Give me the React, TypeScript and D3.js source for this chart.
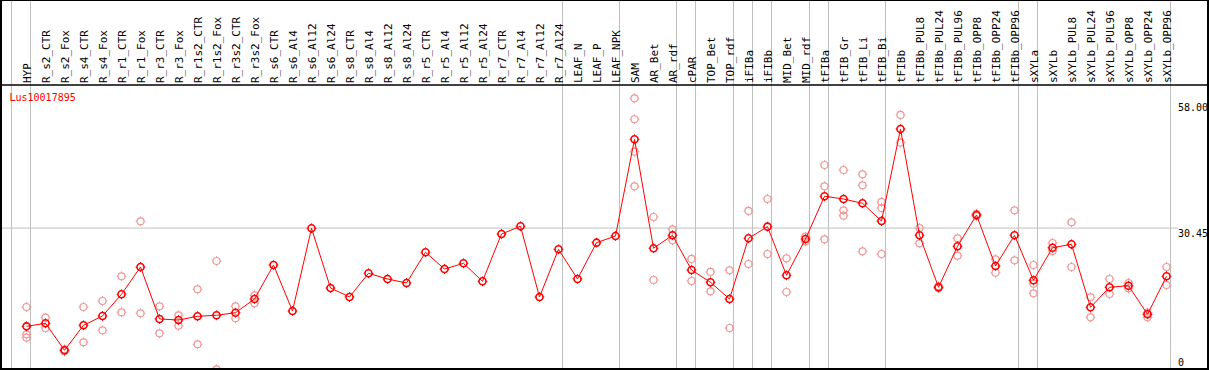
import React from "react";
import * as d3 from "d3";

const categories = [
  "HYP", "R_s2_CTR", "R_s2_Fox", "R_s4_CTR", "R_s4_Fox", "R_r1_CTR", "R_r1_Fox", "R_r3_CTR", "R_r3_Fox",
  "R_r1s2_CTR", "R_r1s2_Fox", "R_r3s2_CTR", "R_r3s2_Fox", "R_s6_CTR", "R_s6_Al4", "R_s6_Al12", "R_s6_Al24",
  "R_s8_CTR", "R_s8_Al4", "R_s8_Al12", "R_s8_Al24", "R_r5_CTR", "R_r5_Al4", "R_r5_Al12", "R_r5_Al24",
  "R_r7_CTR", "R_r7_Al4", "R_r7_Al12", "R_r7_Al24", "LEAF_N", "LEAF_P", "LEAF_NPK", "SAM", "AR_Bet", "AR_rdf",
  "cPAR", "TOP_Bet", "TOP_rdf", "iFIBa", "iFIBb", "MID_Bet", "MID_rdf", "tFIBa", "tFIB_Gr", "tFIB_Li", "tFIB_Bi",
  "tFIBb", "tFIBb_PUL8", "tFIBb_PUL24", "tFIBb_PUL96", "tFIBb_OPP8", "tFIBb_OPP24", "tFIBb_OPP96",
  "sXYLa", "sXYLb", "sXYLb_PUL8", "sXYLb_PUL24", "sXYLb_PUL96", "sXYLb_OPP8", "sXYLb_OPP24", "sXYLb_OPP96",
];

const means = [
  9.59, 10.23, 4.5, 9.81, 11.78, 16.39, 22.19, 11.15, 10.93, 11.72, 11.93, 12.48, 15.39, 22.61, 12.85,
  30.4, 17.73, 15.82, 20.85, 19.64, 18.79, 25.31, 21.76, 22.97, 19.15, 29.19, 30.83, 15.82, 25.94, 19.64,
  27.35, 28.77, 49.3, 26.16, 28.92, 21.55, 18.94, 15.39, 28.28, 30.75, 20.42, 28.13, 37.2, 36.62, 35.71,
  31.95, 51.49, 28.92, 17.88, 26.58, 33.23, 22.4, 28.92, 19.36, 26.28, 27.0, 13.63, 17.88, 18.22, 12.14, 20.21,
];

const replicates: number[][] = [
  [13.69, 7.9, 7.18], [11.42, 9.24], [4.7, 4.3], [13.69, 6.2], [14.97, 8.75], [20.21, 12.57], [31.89, 12.36],
  [13.84, 8.11], [11.93, 9.72], [17.45, 5.77], [23.46, 0.47], [13.84, 11.3], [16.18, 14.48],
  [], [], [], [], [], [], [], [], [], [], [], [], [], [], [], [], [], [], [],
  [58.0, 53.55, 46.67, 39.32], [32.8, 19.43], [30.19, 27.86], [23.89, 19.21], [21.13, 17.02], [21.48, 9.24],
  [34.08, 22.82], [36.62, 24.95], [24.03, 16.88], [28.62, 27.64], [43.84, 39.32, 28.07], [42.78, 34.22, 33.08],
  [41.87, 39.53, 25.52], [35.99, 34.71, 24.95], [54.46, 48.58], [30.47, 27.22], [18.1, 17.7], [28.28, 24.59],
  [33.45, 33.0], [23.82, 20.98], [34.22, 23.61], [22.61, 18.64, 16.6], [27.28, 25.58], [31.68, 22.19],
  [15.75, 11.51], [19.64, 16.45], [18.79, 17.66], [12.48, 11.51], [22.19, 18.36],
];

const yTicks = [58.0, 30.45, 0];
const separatorsAfter = [-1, 0, 28, 31, 34, 35, 37, 38, 39, 41, 42, 45, 52, 53, 60];
const geneLabel = "Lus10017895";

const W = 1209;
const H = 370;
const MONO = "'DejaVu Sans Mono', 'Liberation Mono', monospace";

function Marker({ cx, cy, color, sw }: { cx: number; cy: number; color: string; sw: number }) {
  const r = 3.5;
  const t = 1.4;
  return (
    <g stroke={color} strokeWidth={sw} fill="none">
      <circle cx={cx} cy={cy} r={r} />
      <line x1={cx} y1={cy - r} x2={cx} y2={cy - r - t} strokeWidth={1} />
      <line x1={cx} y1={cy + r} x2={cx} y2={cy + r + t} strokeWidth={1} />
      <line x1={cx - r} y1={cy} x2={cx - r - t} y2={cy} strokeWidth={1} />
      <line x1={cx + r} y1={cy} x2={cx + r + t} y2={cy} strokeWidth={1} />
    </g>
  );
}

export default function App() {
  const x = d3.scaleLinear().domain([0, categories.length - 1]).range([26.5, 1166.5]);
  const y = d3.scaleLinear().domain([0, 58]).range([371.5, 98.3]);
  const line = d3
    .line<number>()
    .x((_, i) => x(i))
    .y((d) => y(d));

  const tickLabelY = (v: number, idx: number) => {
    if (v === 0) return 365.5;
    return y(v) + (idx === 0 ? 12.5 : 8.5);
  };

  return (
    <div style={{ position: "absolute", left: 0, top: 0 }}>
      <svg width={W} height={H} style={{ display: "block", background: "#fff" }}>
        <defs>
          <clipPath id="plotclip">
            <rect x={2} y={86} width={1205} height={283} />
          </clipPath>
        </defs>
        {separatorsAfter.map((i) => (
          <line key={"sep" + i} x1={x(i) + 4} x2={x(i) + 4} y1={0} y2={369} stroke="#c0c0c0" strokeWidth={1} />
        ))}
        <line x1={2} x2={1178} y1={y(30.45)} y2={y(30.45)} stroke="#c0c0c0" strokeWidth={1} />
        {categories.map((c, i) => (
          <text
            key={c}
            transform={`translate(${x(i) + 4},83) rotate(-90)`}
            fontFamily={MONO}
            fontSize={11}
            fill="#000"
          >
            {c}
          </text>
        ))}
        <line x1={0} x2={W} y1={85} y2={85} stroke="#000" strokeWidth={1.5} />
        <text x={9.5} y={100.5} fontFamily={MONO} fontSize={10} fill="#ff0000">
          {geneLabel}
        </text>
        {yTicks.map((v, idx) => (
          <text key={"t" + idx} x={1178} y={tickLabelY(v, idx)} fontFamily={MONO} fontSize={10} fill="#000">
            {v === 0 ? "0" : v.toFixed(2)}
          </text>
        ))}
        <g clipPath="url(#plotclip)">
          {replicates.map((reps, i) =>
            reps.map((v, j) => <Marker key={`r${i}-${j}`} cx={x(i)} cy={y(v)} color="#f09898" sw={1.2} />)
          )}
          <path d={line(means) || ""} fill="none" stroke="#ff0000" strokeWidth={1} />
          {means.map((v, i) => (
            <Marker key={"m" + i} cx={x(i)} cy={y(v)} color="#ff0000" sw={1.6} />
          ))}
        </g>
        <rect x={1} y={0} width={1207} height={369} fill="none" stroke="#000" strokeWidth={2} />
      </svg>
    </div>
  );
}
